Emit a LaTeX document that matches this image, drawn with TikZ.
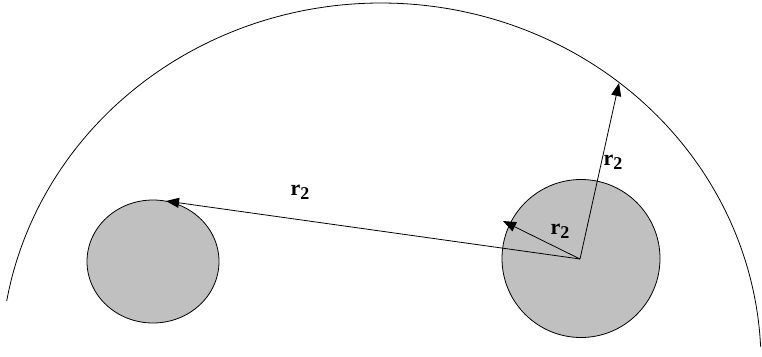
\documentclass[tikz,border=0pt]{standalone}
\usepackage{fontspec}
\setmainfont{Liberation Serif}
\usetikzlibrary{arrows.meta,shapes.geometric}
\definecolor{diskgray}{HTML}{C0C0C0}
\newcommand{\rtwo}{r\raisebox{-4pt}{\fontsize{18}{18}\selectfont 2}}
\tikzset{
  disk/.style={draw=black, fill=diskgray, line width=0.8pt, inner sep=0pt},
  vec/.style={line width=0.8pt, -{Triangle[length=13pt,width=10pt]}},
  lbl/.style={font=\fontsize{22}{22}\selectfont\bfseries, inner sep=0pt}
}
\begin{document}
\begin{tikzpicture}[x=1pt,y=-1pt]
  \useasboundingbox (0,0) rectangle (762,356);
  % outer arc
  \draw[line width=0.8pt] plot[domain=2.6:170.1, samples=200, smooth]
      ({381+380*cos(\x)}, {363-360*sin(\x)});
  % disks
  \node[disk, ellipse, minimum width=132pt, minimum height=123pt] (left) at (153,261.5) {};
  \node[disk, circle, minimum size=158pt] (right) at (581,258.5) {};
  % vectors
  \coordinate (o) at (580,259);
  \coordinate (tl) at (166,201);
  \coordinate (ts) at (503,221);
  \coordinate (tu) at (619,83);
  \draw[vec] (o) -- (tl);
  \draw[vec] (o) -- (ts);
  \draw[vec] (o) -- (tu);
  % labels
  \node[lbl] (l1) at (300,192) {\rtwo};
  \node[lbl] (l2) at (560,231) {\rtwo};
  \node[lbl] (l3) at (613,162) {\rtwo};
\end{tikzpicture}
\end{document}
